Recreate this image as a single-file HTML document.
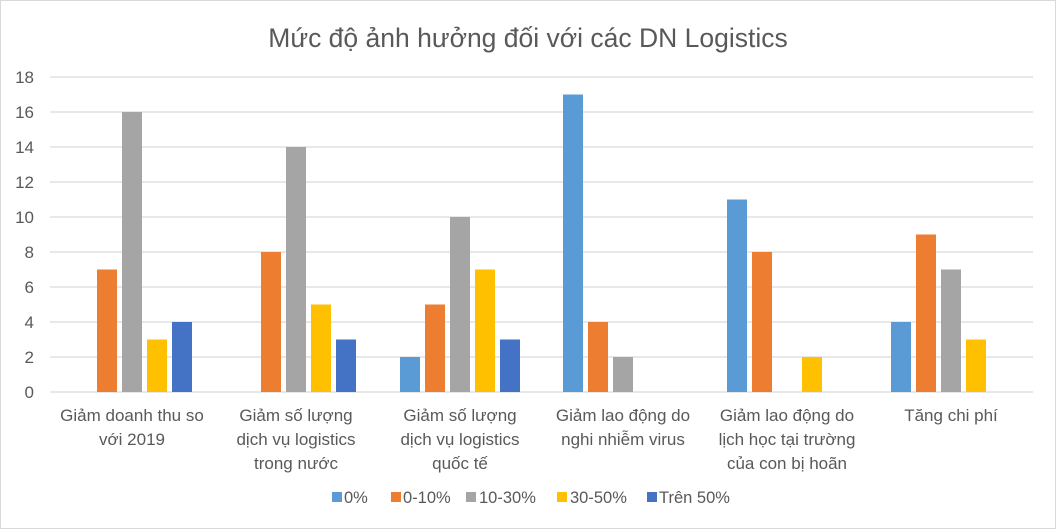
<!DOCTYPE html>
<html><head><meta charset="utf-8"><style>
body{margin:0;background:#fff}
svg{display:block}
text{font-family:"Liberation Sans",sans-serif;fill:#595959}
</style></head><body>
<svg width="1056" height="529" viewBox="0 0 1056 529" xmlns="http://www.w3.org/2000/svg">
<rect x="0.5" y="0.5" width="1055" height="528" fill="#fff" stroke="#d9d9d9"/>
<text x="528" y="47" font-size="26.5" text-anchor="middle">Mức độ ảnh hưởng đối với các DN Logistics</text>
<g stroke="#d9d9d9" stroke-width="1.3">
<line x1="50" x2="1033" y1="77" y2="77"/><line x1="50" x2="1033" y1="112" y2="112"/>
<line x1="50" x2="1033" y1="147" y2="147"/><line x1="50" x2="1033" y1="182" y2="182"/>
<line x1="50" x2="1033" y1="217" y2="217"/><line x1="50" x2="1033" y1="252" y2="252"/>
<line x1="50" x2="1033" y1="287" y2="287"/><line x1="50" x2="1033" y1="322" y2="322"/>
<line x1="50" x2="1033" y1="357" y2="357"/><line x1="50" x2="1033" y1="392" y2="392"/>
</g>
<g font-size="17" text-anchor="end">
<text x="34" y="83">18</text><text x="34" y="118">16</text><text x="34" y="153">14</text>
<text x="34" y="188">12</text><text x="34" y="223">10</text><text x="34" y="258">8</text>
<text x="34" y="293">6</text><text x="34" y="328">4</text><text x="34" y="363">2</text><text x="34" y="398">0</text>
</g>
<g>
<rect x="97" y="269.5" width="20" height="122.5" fill="#ed7d31"/>
<rect x="122" y="112" width="20" height="280" fill="#a5a5a5"/>
<rect x="147" y="339.5" width="20" height="52.5" fill="#ffc000"/>
<rect x="172" y="322" width="20" height="70" fill="#4472c4"/>
<rect x="261" y="252" width="20" height="140" fill="#ed7d31"/>
<rect x="286" y="147" width="20" height="245" fill="#a5a5a5"/>
<rect x="311" y="304.5" width="20" height="87.5" fill="#ffc000"/>
<rect x="336" y="339.5" width="20" height="52.5" fill="#4472c4"/>
<rect x="400" y="357" width="20" height="35" fill="#5b9bd5"/>
<rect x="425" y="304.5" width="20" height="87.5" fill="#ed7d31"/>
<rect x="450" y="217" width="20" height="175" fill="#a5a5a5"/>
<rect x="475" y="269.5" width="20" height="122.5" fill="#ffc000"/>
<rect x="500" y="339.5" width="20" height="52.5" fill="#4472c4"/>
<rect x="563" y="94.5" width="20" height="297.5" fill="#5b9bd5"/>
<rect x="588" y="322" width="20" height="70" fill="#ed7d31"/>
<rect x="613" y="357" width="20" height="35" fill="#a5a5a5"/>
<rect x="727" y="199.5" width="20" height="192.5" fill="#5b9bd5"/>
<rect x="752" y="252" width="20" height="140" fill="#ed7d31"/>
<rect x="802" y="357" width="20" height="35" fill="#ffc000"/>
<rect x="891" y="322" width="20" height="70" fill="#5b9bd5"/>
<rect x="916" y="234.5" width="20" height="157.5" fill="#ed7d31"/>
<rect x="941" y="269.5" width="20" height="122.5" fill="#a5a5a5"/>
<rect x="966" y="339.5" width="20" height="52.5" fill="#ffc000"/>
</g>
<g font-size="17" text-anchor="middle">
<text x="132" y="421">Giảm doanh thu so</text><text x="132" y="445">với 2019</text>
<text x="296" y="421">Giảm số lượng</text><text x="296" y="445">dịch vụ logistics</text><text x="296" y="469">trong nước</text>
<text x="460" y="421">Giảm số lượng</text><text x="460" y="445">dịch vụ logistics</text><text x="460" y="469">quốc tế</text>
<text x="623" y="421">Giảm lao động do</text><text x="623" y="445">nghi nhiễm virus</text>
<text x="787" y="421">Giảm lao động do</text><text x="787" y="445">lịch học tại trường</text><text x="787" y="469">của con bị hoãn</text>
<text x="951" y="421">Tăng chi phí</text>
</g>
<g font-size="16.5">
<rect x="332" y="492" width="10" height="10" fill="#5b9bd5"/><text x="344" y="503">0%</text>
<rect x="391" y="492" width="10" height="10" fill="#ed7d31"/><text x="403" y="503">0-10%</text>
<rect x="466" y="492" width="10" height="10" fill="#a5a5a5"/><text x="479" y="503">10-30%</text>
<rect x="557" y="492" width="10" height="10" fill="#ffc000"/><text x="570" y="503">30-50%</text>
<rect x="647" y="492" width="10" height="10" fill="#4472c4"/><text x="659" y="503">Trên 50%</text>
</g>
</svg>
</body></html>
